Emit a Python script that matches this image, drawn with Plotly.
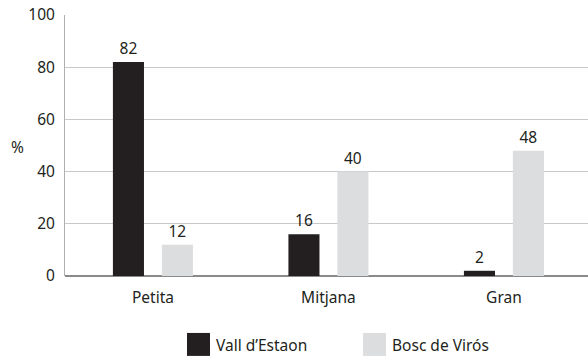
import plotly.graph_objects as go

# Mida de l'arbre per localitat (%)
categories = ["Petita", "Mitjana", "Gran"]
series_names = ["Vall d\u2019Estaon", "Bosc de Virós"]
vall_estaon = [82, 16, 2]
bosc_viros = [12, 40, 48]
y_ticks = [0, 20, 40, 60, 80, 100]

colors = ["#231f20", "#dcdddf"]
FONT = "Noto Sans"
FS = 15.5
TEXT = "#231f20"

fig = go.Figure()
for name, vals, col, off in zip(series_names, [vall_estaon, bosc_viros], colors, [-0.228, 0.051]):
    fig.add_trace(go.Bar(
        x=categories, y=vals, name=name,
        marker=dict(color=col, line=dict(width=0)),
        width=0.177, offset=off,
        text=[str(v) for v in vals], textposition="outside",
        textfont=dict(family=FONT, size=FS, color=TEXT),
        cliponaxis=False, showlegend=False,
    ))

fig.update_layout(
    width=588, height=358,
    margin=dict(l=65, r=0, t=15, b=82),
    paper_bgcolor="white", plot_bgcolor="white",
    barmode="overlay",
    font=dict(family=FONT, size=FS, color=TEXT),
    xaxis=dict(
        type="category", range=[-0.501, 2.479],
        showgrid=False, showline=False, ticks="",
        ticklabelstandoff=10,
        tickfont=dict(family=FONT, size=FS, color=TEXT),
    ),
    yaxis=dict(
        range=[0, 100], tickvals=y_ticks,
        showgrid=True, gridcolor="#c8c8c8", gridwidth=1,
        zeroline=True, zerolinecolor="#8a8a8a", zerolinewidth=1.5,
        showline=True, linecolor="#b0b0b0", linewidth=1,
        ticks="", ticklabelstandoff=6,
        tickfont=dict(family=FONT, size=FS, color=TEXT),
    ),
)

# Títol de l'eix Y
fig.add_annotation(text="%", xref="paper", yref="paper", x=(17 - 65) / 523, y=(276 - 147) / 261.3,
                   xanchor="center", yanchor="middle",
                   showarrow=False, font=dict(family=FONT, size=FS, color=TEXT))

# Llegenda a mà, amb quadrats grans sota el gràfic
legend_x = [187, 363]
for name, col, lx in zip(series_names, colors, legend_x):
    fig.add_shape(type="rect", xref="paper", yref="paper",
                  x0=(lx - 65) / 523, x1=(lx + 23 - 65) / 523,
                  y0=-(333 - 276 + 23) / 261.3, y1=-(333 - 276) / 261.3,
                  fillcolor=col, line=dict(width=0))
    fig.add_annotation(text=name, xref="paper", yref="paper",
                       x=(lx + 27 - 65) / 523, y=-(345 - 276) / 261.3,
                       xanchor="left", yanchor="middle", showarrow=False,
                       font=dict(family=FONT, size=FS, color=TEXT))

fig.write_html("out.html")
